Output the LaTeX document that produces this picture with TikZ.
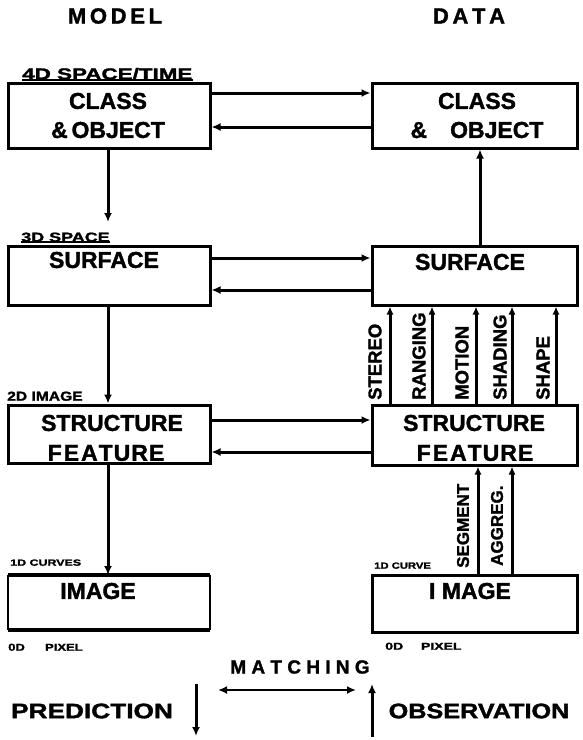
\documentclass[tikz,border=0pt]{standalone}
\usepackage{fontspec}
\setmainfont{Liberation Sans}[BoldFeatures={FakeBold=1.5}]
\usetikzlibrary{arrows.meta}
\tikzset{
  box/.style={draw, line width=3pt, rectangle, inner sep=0pt},
  big/.style={font=\fontsize{23}{26}\bfseries\selectfont, inner sep=0pt},
  head/.style={font=\fontsize{22}{24}\bfseries\selectfont, inner sep=0pt},
  lvl/.style={font=\fontsize{16}{18}\bfseries\selectfont, inner sep=0pt, anchor=south west},
  tiny/.style={font=\fontsize{9}{11}\bfseries\selectfont, inner sep=0pt, anchor=south west},
  vlab/.style={font=\fontsize{18.5}{20}\bfseries\selectfont, inner sep=0pt, rotate=90, anchor=west},
  conn/.style={line width=3pt, -{Latex[length=9pt,width=8pt]}},
  thinconn/.style={line width=3pt, -{Latex[length=8pt,width=7pt]}},
}
\begin{document}
\begin{tikzpicture}[x=1pt,y=-1pt]
\useasboundingbox (0,0) rectangle (582,740);
% headings
\node[head] (model) at (115,16) {M\,O\,D\,E\,L};
\node[head] (data) at (469,16) {D\,A\,T\,A};
% left column boxes
\node[box, minimum width=202pt, minimum height=65pt] (L1) at (109,115.5) {};
\node[box, minimum width=202pt, minimum height=59pt] (L2) at (109,275.5) {};
\node[box, minimum width=202pt, minimum height=58pt] (L3) at (109,434) {};
\coordinate (L4nw) at (8,575);
\coordinate (L4ne) at (210,575);
\coordinate (L4sw) at (8,630);
\coordinate (L4se) at (210,630);
\draw[line width=3.6pt] (L4nw) -- (L4ne);
\draw[line width=3.6pt] (L4sw) -- (L4se);
\draw[line width=2.2pt] (L4nw) -- (L4sw);
\draw[line width=2.2pt] (L4ne) -- (L4se);
% right column boxes
\node[box, minimum width=205pt, minimum height=65pt] (R1) at (474.5,115.5) {};
\node[box, minimum width=205pt, minimum height=59pt] (R2) at (474.5,275.5) {};
\node[box, minimum width=205pt, minimum height=60pt] (R3) at (474.5,435) {};
\node[box, minimum width=205pt, minimum height=57pt] (R4) at (474.5,603.5) {};
% box texts
\node[big] (t1a) at (108,101) {CLASS};
\node[big] (t1b) at (108,130) {\&\,OBJECT};
\node[big] (t1c) at (477,101) {CLASS};
\node[big] (t1d) at (477,130) {\&\quad OBJECT};
\node[big] (t2a) at (104,260) {SURFACE};
\node[big] (t2b) at (470,262) {SURFACE};
\node[big] (t3a) at (112,423) {STRUCTURE};
\node[big] (t3b) at (106,453) {F\hspace{2pt}E\hspace{2pt}A\hspace{1pt}T\hspace{1pt}U\hspace{1pt}R\hspace{1pt}E};
\node[big] (t3c) at (474,423) {STRUCTURE};
\node[big] (t3d) at (475,453) {F\hspace{2pt}E\hspace{2pt}A\hspace{1pt}T\hspace{1pt}U\hspace{1pt}R\hspace{1pt}E};
\node[big] (t4a) at (98,591) {IMAGE};
\node[big] (t4b) at (470,591) {I MAGE};
% level labels
\node[lvl, xscale=1.4] (s4) at (22,80) {4D SPACE/TIME};
\draw[line width=1.6pt] (s4.south west) -- (s4.south east);
\node[lvl, font=\fontsize{13}{14}\bfseries\selectfont, xscale=1.38] (s3) at (21,242) {3D SPACE};
\draw[line width=1.6pt] (s3.south west) -- (s3.south east);
\node[lvl, font=\fontsize{13}{14}\bfseries\selectfont, xscale=1.2] (s2) at (7,401) {2D IMAGE};
\node[tiny, xscale=1.38] (s1) at (10,566) {1D CURVES};
\node[tiny, font=\fontsize{10}{11}\bfseries\selectfont, xscale=1.3] (s0) at (8,651) {0D \quad\ PIXEL};
\node[tiny, xscale=1.25] (r1) at (374,569) {1D CURVE};
\node[tiny, font=\fontsize{10}{11}\bfseries\selectfont, xscale=1.4] (r0) at (385,650) {0D \quad PIXEL};
% horizontal connectors
\draw[conn] (L1.east |- 0,93) -- (R1.west |- 0,93);
\draw[conn] (R1.west |- 0,127) -- (L1.east |- 0,127);
\draw[conn] (L2.east |- 0,258) -- (R2.west |- 0,258);
\draw[conn] (R2.west |- 0,290) -- (L2.east |- 0,290);
\draw[conn] (L3.east |- 0,420) -- (R3.west |- 0,420);
\draw[conn] (R3.west |- 0,452) -- (L3.east |- 0,452);
% left downward
\coordinate (d1) at (108,222);
\draw[conn] (L1.south -| 108,0) -- (d1);
\draw[conn] (L2.south -| 108,0) -- (L3.north -| 108,0);
\draw[conn] (L3.south -| 108,0) -- (L4nw -| 108,0);
% right upward
\draw[conn] (R2.north -| 480,0) -- (R1.south -| 480,0);
\foreach \x/\t/\lx in {390/STEREO/375, 432/RANGING/419, 476/MOTION/462, 512/SHADING/500, 556/SHAPE/543}{
  \draw[thinconn] (R3.north -| \x,0) -- (R2.south -| \x,0);
  \node[vlab] at (\lx,400) {\t};
}
\draw[thinconn] (R4.north -| 478,0) -- (R3.south -| 478,0);
\draw[thinconn] (R4.north -| 512,0) -- (R3.south -| 512,0);
\node[vlab, font=\fontsize{17}{19}\bfseries\selectfont] (seg) at (463,568) {SEGMENT};
\node[vlab, font=\fontsize{17}{19}\bfseries\selectfont] (agg) at (497,566) {AGGREG.};
% bottom legend
\node[font=\fontsize{19}{22}\bfseries\selectfont, inner sep=0pt] (match) at (300,667) {M A T C H I N G};
\coordinate (ma) at (218,690);
\coordinate (mb) at (356,690);
\draw[line width=2.6pt, {Latex[length=9pt,width=8pt]}-{Latex[length=9pt,width=8pt]}] (ma) -- (mb);
\node[font=\fontsize{21}{22}\bfseries\selectfont, inner sep=0pt, xscale=1.25] (pred) at (92,711) {PREDICTION};
\node[font=\fontsize{21}{22}\bfseries\selectfont, inner sep=0pt, xscale=1.2] (obs) at (479,711) {OBSERVATION};
\coordinate (pa) at (196,684);
\coordinate (pb) at (196,736);
\coordinate (oa) at (372,737);
\coordinate (ob) at (372,684);
\draw[conn] (pa) -- (pb);
\draw[conn] (oa) -- (ob);
\end{tikzpicture}
\end{document}
